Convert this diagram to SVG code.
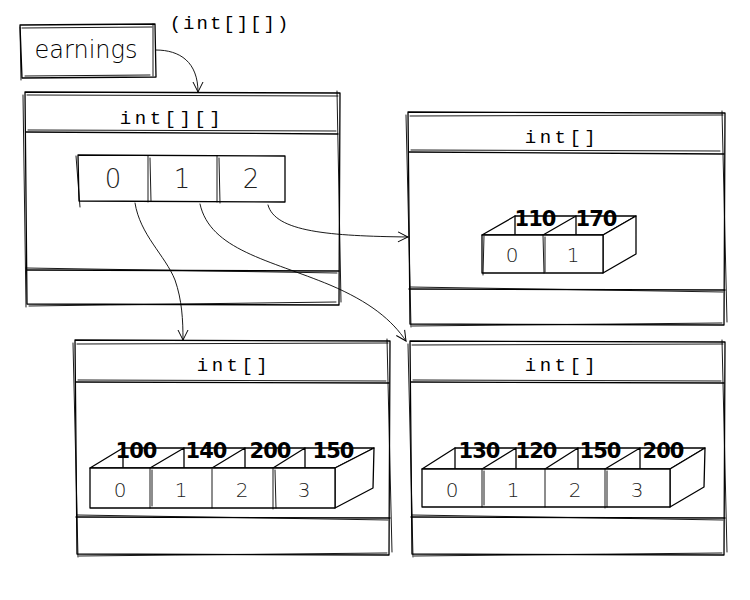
<svg xmlns="http://www.w3.org/2000/svg" width="750" height="600" viewBox="0 0 750 600">
<style>
.s{fill:none;stroke:#000;stroke-width:1.3;stroke-linecap:round;stroke-linejoin:round}
.t{stroke-width:0.9}
.f{fill:#fff}
.ttl{font-family:"Liberation Mono","DejaVu Sans Mono",monospace;font-size:19px;letter-spacing:3.5px;fill:#000;text-anchor:middle}
.lbl{font-family:"DejaVu Sans","Liberation Sans",sans-serif;font-size:24px;fill:#000;text-anchor:middle;font-weight:300}
.idx{font-family:"DejaVu Sans","Liberation Sans",sans-serif;font-size:20px;fill:#222;text-anchor:middle;font-weight:300}
.val{font-family:"DejaVu Sans","Liberation Sans",sans-serif;font-size:21px;fill:#000;text-anchor:middle;font-weight:bold;letter-spacing:-1px}
</style>
<defs>
<marker id="ah" viewBox="0 0 12 12" refX="11" refY="6" markerWidth="12" markerHeight="12" markerUnits="userSpaceOnUse" orient="auto">
<path d="M1,1 L11,6 L1,11" fill="none" stroke="#000" stroke-width="1"/>
</marker>
</defs>
<rect width="750" height="600" fill="#fff"/>

<g id="earnings">
<path class="s" d="M20,25 L155,24 L156,77 L22,78 Z"/>
<path class="s t" d="M22,28 L152,27 M153,24 L153,76 M25,76 L150,75 M20,27 L21,80"/>
<text class="lbl" x="86" y="58">earnings</text>
<text class="ttl" x="230" y="29" style="letter-spacing:2px">(int[][])</text>
</g>

<g id="arr2d">
<path class="s" d="M25,92 L340,93 L339,305 L27,304 Z"/>
<path class="s t" d="M23,95 L26,307 M337,91 L341,302 M27,95 L338,96 M29,306 L336,302"/>
<path class="s" d="M26,132 L338,134 M27,270 L339,271"/>
<path class="s t" d="M28,130 L336,131 M26,268 L337,273"/>
<text class="ttl" x="172" y="124">int[][]</text>
<path class="s f" d="M78,155 L285,156 L285,202 L79,201 Z"/>
<path class="s t" d="M148,156 L148,202 M217,156 L217,202 M76,156 L80,207 M150,158 L151,201 M219,158 L220,203"/>
<text class="idx" x="113" y="188" style="font-size:26px">0</text>
<text class="idx" x="182" y="188" style="font-size:26px">1</text>
<text class="idx" x="251" y="188" style="font-size:26px">2</text>
</g>

<g id="arrA">
<path class="s" d="M408,112 L725,113 L724,325 L410,324 Z"/>
<path class="s t" d="M406,115 L411,327 M722,111 L727,322 M410,116 L723,115 M412,326 L722,323"/>
<path class="s" d="M409,152 L724,154 M409,289 L725,290"/>
<path class="s t" d="M411,150 L720,151 M410,287 L723,292"/>
<text class="ttl" x="562" y="143">int[]</text>
<path class="s f" d="M482,235 L515,216 L636,216 L603,235 Z"/>
<path class="s" d="M515,216 L515,235 M576,216 L576,235 M543,235 L576,216"/>
<path class="s f" d="M603,235 L636,216 L636,254 L603,273 Z"/>
<path class="s f" d="M482,235 L603,235 L603,273 L482,273 Z"/>
<path class="s t" d="M543,235 L544,273 M545,237 L545,272 M484,236 L483,275"/>
<text class="idx" x="512" y="262">0</text>
<text class="idx" x="573" y="262">1</text>
<text class="val" x="535" y="226">110</text>
<text class="val" x="596" y="226">170</text>
</g>

<g id="arrB">
<path class="s" d="M75,340 L390,341 L389,555 L77,554 Z"/>
<path class="s t" d="M73,343 L78,557 M387,339 L392,552 M77,344 L388,343 M79,556 L387,553"/>
<path class="s" d="M76,382 L389,383 M76,517 L390,518"/>
<path class="s t" d="M78,380 L386,381 M77,515 L388,520"/>
<text class="ttl" x="234" y="371">int[]</text>
<path class="s f" d="M90,468 L123,448 L374,448 L335,468 Z"/>
<path class="s" d="M123,448 L123,468 M184,448 L184,468 M245,448 L245,468 M305,448 L305,468 M150,468 L184,448 M212,468 L245,448 M273,468 L305,448"/>
<path class="s f" d="M335,468 L374,448 L373,488 L335,508 Z"/>
<path class="s f" d="M90,468 L335,468 L335,508 L90,508 Z"/>
<path class="s t" d="M150,468 L150,508 M212,469 L212,508 M273,468 L273,509 M152,470 L152,506 M275,470 L276,508"/>
<text class="idx" x="120" y="497">0</text>
<text class="idx" x="181" y="497">1</text>
<text class="idx" x="242" y="497">2</text>
<text class="idx" x="304" y="497">3</text>
<text class="val" x="136" y="458">100</text>
<text class="val" x="206" y="458">140</text>
<text class="val" x="270" y="458">200</text>
<text class="val" x="333" y="458">150</text>
</g>

<g id="arrC">
<path class="s" d="M410,341 L725,342 L724,555 L412,554 Z"/>
<path class="s t" d="M408,344 L413,557 M722,340 L727,552 M412,345 L723,344 M414,556 L722,553"/>
<path class="s" d="M411,382 L724,383 M411,517 L725,518"/>
<path class="s t" d="M413,380 L721,381 M412,515 L723,520"/>
<text class="ttl" x="562" y="371">int[]</text>
<path class="s f" d="M422,469 L455,448 L705,448 L670,469 Z"/>
<path class="s" d="M455,448 L455,469 M516,448 L516,469 M578,448 L578,469 M640,448 L640,469 M482,469 L516,448 M545,469 L578,448 M605,469 L640,448"/>
<path class="s f" d="M670,469 L705,448 L704,487 L670,507 Z"/>
<path class="s f" d="M422,469 L670,469 L670,507 L422,507 Z"/>
<path class="s t" d="M482,469 L482,507 M545,469 L545,507 M605,469 L605,508 M484,471 L484,505 M607,471 L607,507"/>
<text class="idx" x="452" y="497">0</text>
<text class="idx" x="513" y="497">1</text>
<text class="idx" x="575" y="497">2</text>
<text class="idx" x="637" y="497">3</text>
<text class="val" x="479" y="458">130</text>
<text class="val" x="536" y="458">120</text>
<text class="val" x="600" y="458">150</text>
<text class="val" x="663" y="458">200</text>
</g>

<g id="connectors">
<path class="s t" marker-end="url(#ah)" d="M156,50 C180,50 198,62 198,92"/>
<path class="s t" marker-end="url(#ah)" d="M135,203 C140,235 165,255 175,280 C182,300 183,320 183,340"/>
<path class="s t" marker-end="url(#ah)" d="M200,204 C210,250 270,260 330,285 C370,302 392,320 406,341"/>
<path class="s t" marker-end="url(#ah)" d="M268,205 C275,232 330,236 408,237"/>
</g>
</svg>
